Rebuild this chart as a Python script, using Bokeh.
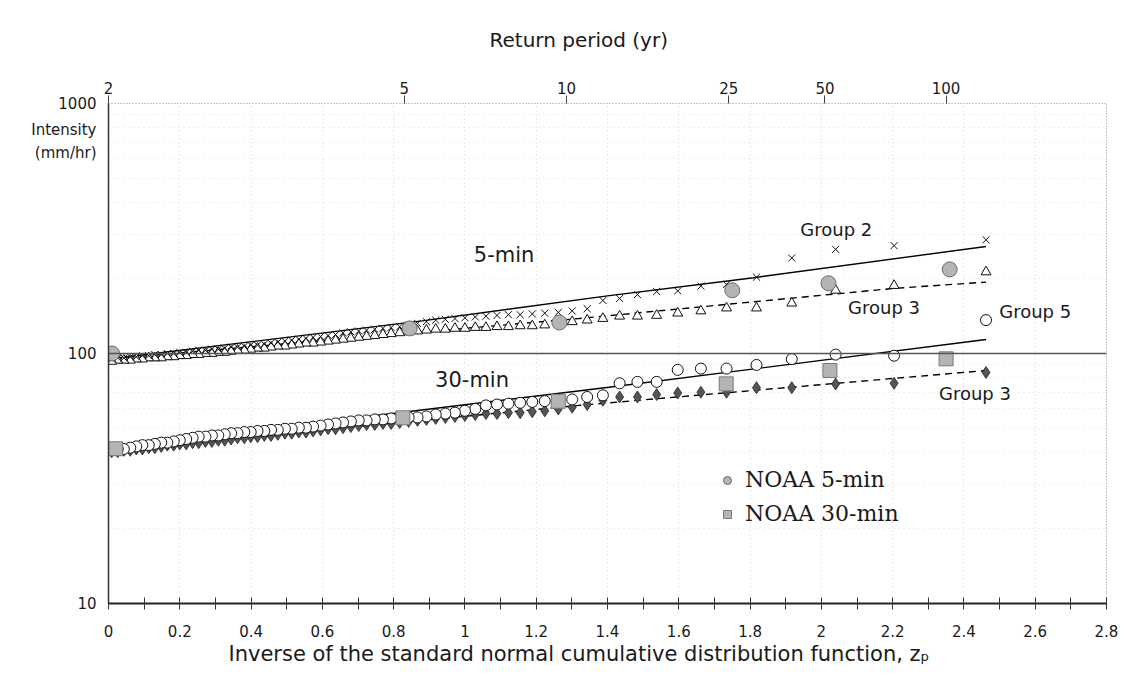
from bokeh.plotting import figure
from bokeh.models import (LinearAxis, FixedTicker, Span, Label, Title,
                          Legend, LegendItem, Range1d)
from bokeh.embed import file_html
from bokeh.resources import INLINE

# ---------------- data ----------------
# plotting positions (standard normal variate) of ranked observations
z_rank = [2.462, 2.204, 2.040, 1.917, 1.818, 1.734, 1.662, 1.597, 1.538, 1.484, 1.434, 1.387, 1.343,
          1.301, 1.262, 1.224, 1.189, 1.155, 1.122, 1.090, 1.059, 1.029, 1.000,
          0.972, 0.945, 0.918, 0.892, 0.867, 0.842, 0.817, 0.793, 0.770, 0.747, 0.724, 0.702,
          0.680, 0.658, 0.637, 0.616, 0.595, 0.574, 0.554, 0.534, 0.514, 0.495,
          0.475, 0.456, 0.437, 0.418, 0.399, 0.381, 0.362, 0.344, 0.326, 0.308,
          0.290, 0.272, 0.253, 0.236, 0.218, 0.200, 0.183, 0.165, 0.148, 0.130,
          0.113, 0.095, 0.078, 0.061, 0.043, 0.026, 0.009]

# 5-min, Group 2 (x markers)
g2_5min = [285, 270, 261, 241, 202, 189, 186, 178, 177, 172, 166, 163, 151,
           148, 146, 145, 144, 143, 143, 142, 141, 140, 139,
           138, 137, 136, 134, 132, 130, 128, 127, 126, 125, 124, 123,
           122, 121, 119, 118, 117, 116, 115, 114, 113, 112,
           111, 110, 109, 108, 108, 107, 106, 106, 105, 104,
           104, 103, 103, 102, 101, 101, 100, 100, 99, 99,
           98, 98, 97, 97, 96, 96, 95]
# 5-min, Group 3 (triangles)
g3_5min = [212, 187, 179, 159, 152, 152, 148, 145, 142, 141, 141, 138, 136,
           134, 132, 130, 129, 129, 128, 128, 127, 127, 126,
           126, 125, 125, 124, 123, 122, 121, 120, 119, 118, 117, 116,
           115, 114, 113, 112, 111, 110, 110, 109, 108, 107,
           107, 106, 105, 105, 104, 103, 103, 102, 101, 101,
           100, 100, 99, 99, 98, 98, 97, 97, 96, 96,
           96, 95, 95, 94, 94, 94, 93]
# 30-min, Group 5 (open circles)
g5_30min = [136, 98, 99, 95, 90, 87, 87, 86, 77, 77, 76, 68, 67,
            65.5, 65, 64.5, 64, 63.5, 63, 62.5, 62, 60, 59,
            58, 57.5, 57, 56, 55.5, 55.5, 55, 55, 54.5, 54.5, 54, 54,
            53.5, 53, 52.5, 52, 51.5, 51, 50.5, 50.5, 50, 50,
            49.5, 49.5, 49, 49, 48.5, 48.5, 48, 48, 47.5, 47,
            47, 46.5, 46.5, 46, 45.5, 45, 44.5, 44, 44, 43.5,
            43, 43, 42.5, 42, 41.5, 41.5, 41]
# 30-min, Group 3 (filled diamonds)
g3_30min = [84, 76, 75.5, 73, 73, 70, 70, 69.5, 68.5, 67, 67, 65, 62.5,
            61, 60, 59, 58.5, 58, 58, 57.5, 57.5, 57, 56.5,
            56, 55.5, 55, 54.5, 54, 53.5, 53, 52.5, 52.5, 52, 52, 51.5,
            51, 50.5, 50, 50, 49.5, 49, 48.5, 48.5, 48, 48,
            47.5, 47, 47, 46.5, 46.5, 46, 46, 45.5, 45, 45,
            44.5, 44.5, 44, 44, 43.5, 43.5, 43, 43, 42.5, 42,
            42, 41.5, 41.5, 41, 41, 40.5, 40.5]

# NOAA estimates
noaa5_z = [0.01, 0.845, 1.265, 1.75, 2.02, 2.36]
noaa5_v = [100, 126, 133, 179, 191, 217]
noaa30_z = [0.02, 0.826, 1.262, 1.733, 2.024, 2.35]
noaa30_v = [41.6, 55.3, 64.4, 75.6, 85.5, 95.2]

# fitted lines
fit_g2_5_z = [0, 0.88, 1.40, 1.81, 2.462]
fit_g2_5_v = [95, 135, 170, 201, 268]
fit_g3_5_z = [0, 1.32, 2.20, 2.462]
fit_g3_5_v = [95, 138, 182, 193]
fit_g5_30_z = [0, 0.677, 1.404, 2.462]
fit_g5_30_v = [41.7, 54.8, 73.3, 113.8]
fit_g3_30_z = [0, 1.32, 2.462]
fit_g3_30_v = [41, 62, 85.5]

# top axis: return periods
return_period_labels = ["2", "5", "10", "25", "50", "100"]
return_period_z = [0.0, 0.83, 1.285, 1.74, 2.01, 2.35]

x_ticks = [0, 0.2, 0.4, 0.6, 0.8, 1.0, 1.2, 1.4, 1.6, 1.8, 2.0, 2.2, 2.4, 2.6, 2.8]
x_minor = [0.1, 0.3, 0.5, 0.7, 0.9, 1.1, 1.3, 1.5, 1.7, 1.9, 2.1, 2.3, 2.5, 2.7]
y_ticks = [10, 100, 1000]
y_tick_labels = ["10", "100", "1000"]
y_minor = [20, 30, 40, 50, 60, 70, 80, 90, 200, 300, 400, 500, 600, 700, 800, 900]
# y-axis caption, set as two text lines beside the axis top
y_caption = ["Intensity", "(mm/hr)"]
y_caption_at = [780, 631]

# ---------------- figure ----------------
FONT = "DejaVu Sans"
TXT = "#1a1a1a"

p = figure(width=1120, height=682, x_range=Range1d(0, 2.8), y_range=Range1d(10, 1000),
           y_axis_type="log", output_backend="svg", toolbar_location=None, title=None,
           min_border_left=108, min_border_right=14, min_border_top=103, min_border_bottom=79)
p.background_fill_color = "white"
p.border_fill_color = "white"
p.outline_line_color = "#8a8a8a"
p.outline_line_dash = "1 2"
p.outline_line_width = 1

# bottom axis
xa = p.xaxis[0]
xa.ticker = FixedTicker(ticks=x_ticks, minor_ticks=x_minor)
xa.axis_line_color = "#222222"
xa.axis_line_width = 2
xa.major_tick_in = 6
xa.major_tick_out = 6
xa.minor_tick_in = 6
xa.minor_tick_out = 6
xa.major_tick_line_color = "#333333"
xa.minor_tick_line_color = "#333333"
xa.major_label_text_font = FONT
xa.major_label_text_font_size = "15px"
xa.major_label_text_color = TXT
xa.major_label_standoff = 15

# left axis (with the caption lines as extra labels, no tick marks)
ya = p.yaxis[0]
ya.ticker = FixedTicker(ticks=y_ticks + y_caption_at, minor_ticks=y_minor)
overrides = {v: t for v, t in zip(y_ticks, y_tick_labels)}
overrides.update({v: t for v, t in zip(y_caption_at, y_caption)})
ya.major_label_overrides = overrides
ya.axis_line_color = "#333333"
ya.axis_line_width = 1.5
ya.major_tick_in = 0
ya.major_tick_out = 0
ya.minor_tick_line_color = None
ya.major_label_text_font = FONT
ya.major_label_text_font_size = "15px"
ya.major_label_text_color = TXT
ya.major_label_standoff = 8

# top axis (return period)
top = LinearAxis(ticker=FixedTicker(ticks=return_period_z),
                 major_label_overrides={z: t for z, t in zip(return_period_z, return_period_labels)})
top.axis_line_color = None
top.major_tick_in = 0
top.major_tick_out = 8
top.major_tick_line_color = "#444444"
top.minor_tick_line_color = None
top.major_label_text_font = FONT
top.major_label_text_font_size = "15px"
top.major_label_text_color = TXT
top.major_label_standoff = 2
p.add_layout(top, "above")

p.add_layout(Title(text="Return period (yr)", align="left", offset=381, standoff=50,
                   vertical_align="top",
                   text_font=FONT, text_font_size="20px", text_font_style="normal",
                   text_color=TXT), "above")
p.add_layout(Title(text="Inverse of the standard normal cumulative distribution function, z\u209a",
                   align="left", offset=120, standoff=1,
                   text_font=FONT, text_font_size="21px", text_font_style="normal",
                   text_color=TXT), "below")

# grids
p.xgrid.ticker = FixedTicker(ticks=x_ticks)
p.xgrid.grid_line_color = "#d2d2d2"
p.xgrid.grid_line_dash = "1 3"
p.ygrid.ticker = FixedTicker(ticks=y_ticks, minor_ticks=y_minor)
p.ygrid.grid_line_color = "#d2d2d2"
p.ygrid.grid_line_dash = "1 3"
p.ygrid.minor_grid_line_color = "#dddddd"
p.ygrid.minor_grid_line_dash = "1 4"

p.add_layout(Span(location=100, dimension="width", line_color="#555555", line_width=1.5))

# fitted lines
p.line(fit_g2_5_z, fit_g2_5_v, line_color="black", line_width=1.4)
p.line(fit_g3_5_z, fit_g3_5_v, line_color="black", line_width=1.4, line_dash="7 5")
p.line(fit_g5_30_z, fit_g5_30_v, line_color="black", line_width=1.4)
p.line(fit_g3_30_z, fit_g3_30_v, line_color="black", line_width=1.4, line_dash="7 5")

# observed series
p.scatter(z_rank, g3_30min, marker="diamond", size=12, fill_color="#555555", line_color="#222222", line_width=0.8)
p.scatter(z_rank, g5_30min, marker="circle", size=11, fill_color="white", line_color="#111111", line_width=1)
p.scatter(z_rank, g3_5min, marker="triangle", size=10, fill_color="white", line_color="#111111", line_width=1)
p.scatter(z_rank, g2_5min, marker="x", size=10, line_color="#111111", line_width=1)

r_n5 = p.scatter(noaa5_z, noaa5_v, marker="circle", size=15, fill_color="#b4b4b4", line_color="#6a6a6a", line_width=1)
r_n30 = p.scatter(noaa30_z, noaa30_v, marker="square", size=14, fill_color="#b4b4b4", line_color="#7a7a7a", line_width=1)

# annotations in data space
def note(x, y, text, size):
    p.add_layout(Label(x=x, y=y, text=text, text_font=FONT, text_font_size=size, text_color=TXT,
                       text_align="center", text_baseline="middle"))

note(1.11, 247, "5-min", "21px")
note(1.02, 78, "30-min", "21px")
note(2.042, 313, "Group 2", "18px")
note(2.176, 153, "Group 3", "18px")
note(2.60, 147, "Group 5", "18px")
note(2.431, 69.2, "Group 3", "18px")

legend = Legend(items=[LegendItem(label="NOAA 5-min", renderers=[r_n5]),
                       LegendItem(label="NOAA 30-min", renderers=[r_n30])],
                location=(609, 77), orientation="vertical")
legend.label_text_font = "DejaVu Serif"
legend.label_text_font_size = "22px"
legend.label_text_color = TXT
legend.border_line_color = None
legend.background_fill_alpha = 0
legend.padding = 0
legend.spacing = 9
legend.glyph_height = 22
legend.glyph_width = 20
legend.label_height = 22
legend.label_standoff = 8
legend.margin = 0
p.add_layout(legend)

open("out.html", "w").write(file_html(p, INLINE))
